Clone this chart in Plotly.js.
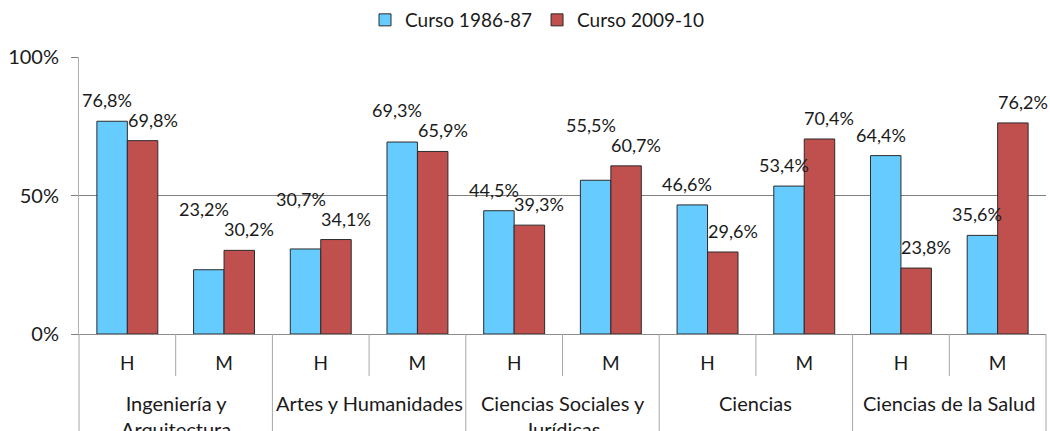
<!DOCTYPE html>
<html>
<head>
<meta charset="utf-8">
<script src="https://cdn.plot.ly/plotly-3.0.1.min.js"></script>
<style>html,body{margin:0;padding:0;background:#fff;overflow:hidden}#chart{width:1050px;height:431px}</style>
</head>
<body>
<div id="chart"></div>
<script>
// ---- data ----
const groups = ["Ingeniería y<br>Arquitectura", "Artes y Humanidades", "Ciencias Sociales y<br>Jurídicas", "Ciencias", "Ciencias de la Salud"];
const subs = ["H", "M"];
const seriesNames = ["Curso 1986-87", "Curso 2009-10"];
const curso1986 = [76.8, 23.2, 30.7, 69.3, 44.5, 55.5, 46.6, 53.4, 64.4, 35.6];
const curso2009 = [69.8, 30.2, 34.1, 65.9, 39.3, 60.7, 29.6, 70.4, 23.8, 76.2];
const yTicks = [0, 50, 100];

// ---- build ----
const FONT = "Lato, 'Open Sans', sans-serif";
const TXT = "#1a1a1a";
const n = curso1986.length;
const xs = [], tickText = [];
groups.forEach((g, gi) => subs.forEach((s, si) => { xs.push(gi * subs.length + si); tickText.push(s); }));

const M = {l: 79, r: 4, t: 57, b: 97};
const plotH = 431 - M.t - M.b;
const plotW = 1050 - M.l - M.r;
const BARGAP = 0.37;
const barPx = plotW / n * (1 - BARGAP) / 2; // width of one bar in px

const colors = ["#66CCFF", "#C0504D"];
const series = [curso1986, curso2009];
const traces = series.map((vals, k) => ({
  type: "bar", name: seriesNames[k], x: xs, y: vals.map(v => v / 100),
  marker: {color: colors[k], line: {color: "#2b2b2b", width: 1}},
  hoverinfo: "skip"
}));

// label placement (avoid collisions between paired labels)
const BASE = 8, SEP = 20;
const annotations = [];
const fmt = v => v.toFixed(1).replace(".", ",") + "%";
xs.forEach((x, i) => {
  const bTop = curso1986[i] / 100 * plotH, rTop = curso2009[i] / 100 * plotH; // px above axis
  let bShift = BASE;
  const d = rTop - bTop; // >0 : red label higher
  if (d > -10 && d < SEP) bShift = rTop + BASE + SEP - bTop;
  annotations.push({x: x, y: curso1986[i] / 100, xref: "x", yref: "y", text: fmt(curso1986[i]), showarrow: false,
    xanchor: "center", yanchor: "bottom", xshift: -barPx / 2 - 5, yshift: bShift, font: {family: FONT, size: 18, color: TXT}});
  annotations.push({x: x, y: curso2009[i] / 100, xref: "x", yref: "y", text: fmt(curso2009[i]), showarrow: false,
    xanchor: "center", yanchor: "bottom", xshift: barPx / 2 + 10, yshift: BASE, font: {family: FONT, size: 18, color: TXT}});
});
groups.forEach((g, gi) => {
  annotations.push({
    x: (gi * subs.length + subs.length / 2) / n, y: 0, xref: "paper", yref: "paper",
    text: g, showarrow: false, xanchor: "center", yanchor: "top", yshift: -55,
    font: {family: FONT, size: 20, color: TXT}, align: "center"
  });
});

const shapes = [];
const sepColor = "#a6a6a6";
for (let i = 0; i <= n; i++) {
  const isGroup = i % subs.length === 0;
  shapes.push({
    type: "line", xref: "paper", yref: "paper", ysizemode: "pixel", yanchor: 0,
    x0: i / n, x1: i / n, y0: 0, y1: isGroup ? -110 : -42,
    line: {color: sepColor, width: 1}
  });
}

const layout = {
  width: 1050, height: 431,
  margin: M,
  paper_bgcolor: "#fff", plot_bgcolor: "#fff",
  barmode: "group", bargap: BARGAP, bargroupgap: 0,
  showlegend: true,
  legend: {orientation: "h", x: 0.5 - 25 / plotW, xanchor: "center", y: 1 - 20 / 431, yanchor: "middle", yref: "container",
    font: {family: FONT, size: 19, color: TXT}, itemwidth: 30, tracegroupgap: 0},
  xaxis: {range: [-0.5, n - 0.5], tickvals: xs, ticktext: tickText, showgrid: false, zeroline: false,
    showline: true, linecolor: "#8c8c8c", linewidth: 1, ticks: "", ticklabelstandoff: 12,
    tickfont: {family: FONT, size: 19, color: TXT}, fixedrange: true},
  yaxis: {range: [0, 1], tickvals: yTicks.map(v => v / 100), ticktext: yTicks.map(v => v + "%"),
    showgrid: true, gridcolor: "#808080", gridwidth: 1, zeroline: false,
    showline: true, linecolor: "#b0b0b0", ticks: "outside", ticklen: 7, tickcolor: "#808080",
    ticklabelstandoff: 8, tickfont: {family: FONT, size: 20, color: TXT}, fixedrange: true},
  annotations: annotations,
  shapes: shapes
};

Plotly.newPlot("chart", traces, layout, {displayModeBar: false, staticPlot: true});
</script>
</body>
</html>
